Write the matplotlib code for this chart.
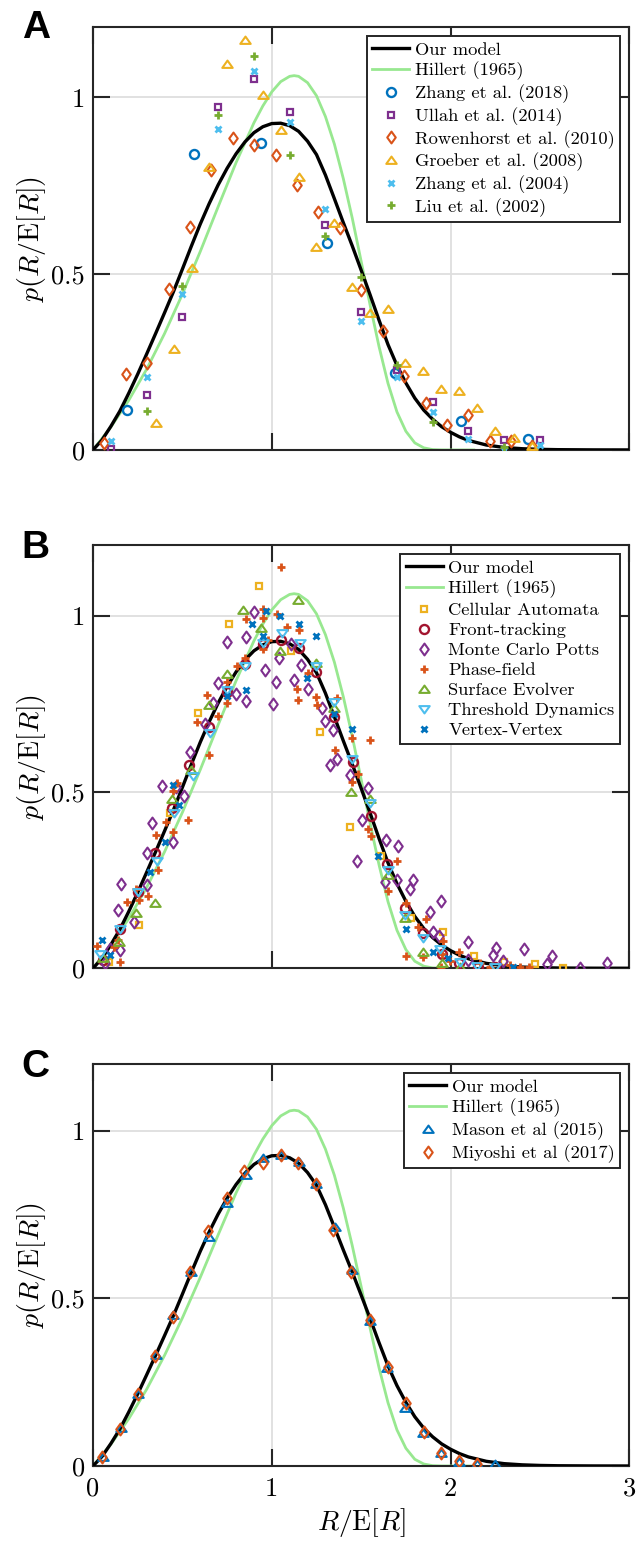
"""Grain radius distributions: our model against Hillert (1965) and published data"""

import matplotlib.pyplot as plt
from matplotlib.path import Path

# model curves
model_x = [0.00, 0.05, 0.10, 0.15, 0.20, 0.25, 0.30, 0.35, 0.40, 0.45, 0.50, 0.55,
           0.60, 0.65, 0.70, 0.75, 0.80, 0.85, 0.90, 0.95, 1.00, 1.05, 1.10, 1.15,
           1.20, 1.25, 1.30, 1.35, 1.40, 1.45, 1.50, 1.55, 1.60, 1.65, 1.70, 1.75,
           1.80, 1.85, 1.90, 1.95, 2.00, 2.05, 2.10, 2.20, 2.30, 2.40, 2.50, 2.60,
           2.80, 3.00]
model_y = [0.000, 0.028, 0.067, 0.110, 0.161, 0.215, 0.272, 0.330, 0.389, 0.449, 0.513, 0.578,
           0.641, 0.699, 0.752, 0.799, 0.840, 0.874, 0.900, 0.917, 0.926, 0.927, 0.920, 0.904,
           0.876, 0.838, 0.780, 0.713, 0.645, 0.579, 0.510, 0.440, 0.368, 0.299, 0.240, 0.190,
           0.147, 0.113, 0.087, 0.066, 0.050, 0.037, 0.027, 0.014, 0.007, 0.0035, 0.0017, 0.0008,
           0.0002, 0.0]

hillert_x = [0.0, 0.1, 0.2, 0.3, 0.4, 0.5, 0.6, 0.7, 0.8, 0.9, 0.95, 1.0, 1.05, 1.1, 1.125,
             1.15, 1.2, 1.25, 1.3, 1.35, 1.4, 1.45, 1.5, 1.55, 1.6, 1.65, 1.7, 1.75, 1.8,
             1.85, 1.9, 1.95, 2.0, 2.13]
hillert_y = [0.0, 0.065, 0.141, 0.229, 0.330, 0.442, 0.563, 0.690, 0.815, 0.928, 0.976, 1.016,
             1.045, 1.060, 1.062, 1.060, 1.042, 1.005, 0.946, 0.868, 0.770, 0.658, 0.535, 0.411,
             0.293, 0.189, 0.108, 0.053, 0.020, 0.006, 0.001, 0.0001, 0.0, 0.0]

# (A) experiments
zhang2018 = [(0.19, 0.114), (0.565, 0.841), (0.94, 0.872), (1.31, 0.586), (1.69, 0.218),
             (2.06, 0.083), (2.435, 0.032)]
ullah2014 = [(0.1, 0.003), (0.3, 0.155), (0.5, 0.377), (0.7, 0.974), (0.9, 1.052), (1.1, 0.958),
             (1.3, 0.638), (1.5, 0.391), (1.7, 0.227), (1.9, 0.137), (2.1, 0.055), (2.3, 0.029),
             (2.5, 0.027)]
rowenhorst2010 = [(0.063, 0.021), (0.183, 0.216), (0.304, 0.246), (0.423, 0.456), (0.543, 0.633),
                  (0.660, 0.795), (0.781, 0.886), (0.900, 0.864), (1.022, 0.836), (1.139, 0.752),
                  (1.257, 0.675), (1.381, 0.631), (1.499, 0.454), (1.620, 0.338), (1.739, 0.211),
                  (1.860, 0.132), (1.980, 0.071), (2.099, 0.099), (2.220, 0.024), (2.339, 0.024),
                  (2.457, 0.011)]
groeber2008 = [(0.354, 0.076), (0.451, 0.286), (0.552, 0.516), (0.651, 0.804), (0.751, 1.095),
               (0.852, 1.162), (0.951, 1.008), (1.050, 0.907), (1.150, 0.773), (1.249, 0.577),
               (1.350, 0.645), (1.449, 0.462), (1.547, 0.388), (1.648, 0.399), (1.747, 0.248),
               (1.846, 0.225), (1.946, 0.172), (2.047, 0.166), (2.146, 0.118), (2.248, 0.054),
               (2.355, 0.033), (2.454, 0.010)]
zhang2004 = [(0.1, 0.026), (0.3, 0.207), (0.5, 0.442), (0.7, 0.910), (0.9, 1.074), (1.1, 0.931),
             (1.3, 0.684), (1.5, 0.367), (1.7, 0.208), (1.9, 0.108), (2.1, 0.030), (2.3, 0.0),
             (2.5, 0.014)]
liu2002 = [(0.3, 0.110), (0.5, 0.466), (0.7, 0.951), (0.9, 1.118), (1.1, 0.836), (1.3, 0.608),
           (1.5, 0.490), (1.7, 0.241), (1.9, 0.080), (2.3, 0.008)]

# (B) simulations
cellular = [(0.09, 0.017), (0.26, 0.123), (0.43, 0.440), (0.59, 0.723), (0.76, 0.975),
            (0.93, 1.085), (1.11, 0.900), (1.27, 0.670), (1.44, 0.400), (1.61, 0.317),
            (1.78, 0.142), (1.96, 0.104), (2.13, 0.035), (2.30, 0.019), (2.47, 0.011), (2.63, 0.0)]
front_tracking = [(0.058, 0.024), (0.151, 0.111), (0.253, 0.215), (0.347, 0.326), (0.440, 0.454),
                  (0.539, 0.577), (0.648, 0.683), (0.748, 0.783), (0.850, 0.864), (0.953, 0.918),
                  (1.050, 0.930), (1.154, 0.908), (1.247, 0.839), (1.350, 0.712), (1.452, 0.585),
                  (1.555, 0.432), (1.645, 0.296), (1.745, 0.172), (1.847, 0.099), (1.950, 0.041),
                  (2.049, 0.014), (2.151, 0.005), (2.250, 0.004)]
potts = [(0.067, 0.014), (0.095, 0.054), (0.151, 0.052), (0.138, 0.164), (0.155, 0.238),
         (0.229, 0.130), (0.300, 0.236), (0.304, 0.326), (0.328, 0.412), (0.384, 0.517),
         (0.446, 0.359), (0.466, 0.515), (0.508, 0.488), (0.543, 0.613), (0.626, 0.692),
         (0.673, 0.752), (0.701, 0.810), (0.748, 0.924), (0.802, 0.779), (0.853, 0.939),
         (0.853, 0.759), (0.902, 1.010), (0.962, 0.845), (1.008, 0.748), (1.021, 0.812),
         (1.040, 0.879), (1.108, 0.918), (1.122, 0.816), (1.165, 0.860), (1.200, 0.793),
         (1.283, 0.738), (1.298, 0.701), (1.344, 0.676), (1.324, 0.576), (1.367, 0.592),
         (1.437, 0.549), (1.536, 0.511), (1.503, 0.420), (1.475, 0.303), (1.639, 0.364),
         (1.708, 0.347), (1.633, 0.246), (1.699, 0.251), (1.771, 0.226), (1.791, 0.250),
         (1.945, 0.190), (1.883, 0.161), (1.903, 0.102), (1.937, 0.092), (2.099, 0.075),
         (2.095, 0.024), (2.253, 0.057), (2.240, 0.038), (2.295, 0.022), (2.411, 0.054),
         (2.537, 0.012), (2.570, 0.035), (2.724, 0.0), (2.877, 0.014)]
phase_field = [(0.020, 0.063), (0.120, 0.059), (0.142, 0.080), (0.151, 0.019), (0.188, 0.188),
               (0.240, 0.224), (0.259, 0.193), (0.309, 0.206), (0.352, 0.378), (0.365, 0.279),
               (0.406, 0.416), (0.449, 0.386), (0.449, 0.504), (0.472, 0.525), (0.529, 0.420),
               (0.580, 0.697), (0.639, 0.775), (0.651, 0.604), (0.698, 0.716), (0.750, 0.752),
               (0.751, 0.811), (0.805, 0.857), (0.850, 0.880), (0.855, 0.989), (0.951, 0.993),
               (0.951, 1.018), (0.951, 0.904), (0.977, 0.932), (1.027, 1.005), (1.052, 1.137),
               (1.083, 0.968), (1.154, 0.960), (1.139, 0.792), (1.148, 0.761), (1.204, 0.837),
               (1.248, 0.770), (1.251, 0.747), (1.363, 0.766), (1.356, 0.619), (1.450, 0.653),
               (1.549, 0.648), (1.450, 0.527), (1.484, 0.552), (1.540, 0.395), (1.555, 0.374),
               (1.700, 0.305), (1.652, 0.218), (1.751, 0.184), (1.751, 0.035), (1.820, 0.117),
               (1.860, 0.139), (1.847, 0.031), (1.956, 0.078), (1.950, 0.040), (1.945, 0.005),
               (1.997, 0.022), (2.049, 0.047), (2.164, 0.014), (2.220, 0.005), (2.332, 0.009),
               (2.388, 0.005), (2.440, 0.005)]
surface_evolver = [(0.058, 0.028), (0.146, 0.075), (0.240, 0.157), (0.349, 0.184), (0.442, 0.480),
                   (0.548, 0.563), (0.649, 0.747), (0.748, 0.835), (0.841, 1.017), (0.942, 0.965),
                   (1.044, 0.900), (1.144, 1.044), (1.249, 0.865), (1.350, 0.738), (1.441, 0.500),
                   (1.550, 0.480), (1.650, 0.265), (1.745, 0.142), (1.847, 0.047), (1.950, 0.014),
                   (2.050, 0.003)]
threshold = [(0.040, 0.040), (0.150, 0.112), (0.250, 0.217), (0.356, 0.305), (0.455, 0.440),
             (0.557, 0.544), (0.652, 0.667), (0.752, 0.790), (0.852, 0.858), (0.953, 0.921),
             (1.058, 0.951), (1.158, 0.921), (1.247, 0.856), (1.350, 0.754), (1.450, 0.593),
             (1.550, 0.468), (1.650, 0.279), (1.745, 0.151), (1.845, 0.085), (1.940, 0.055),
             (2.050, 0.018), (2.150, 0.006), (2.250, 0.004)]
vertex = [(0.049, 0.079), (0.093, 0.037), (0.319, 0.274), (0.403, 0.358), (0.449, 0.521),
          (0.482, 0.464), (0.748, 0.771), (0.854, 0.790), (0.887, 0.977), (0.951, 0.941),
          (0.970, 1.014), (1.046, 0.999), (1.150, 0.977), (1.195, 0.824), (1.247, 0.943),
          (1.350, 0.720), (1.450, 0.679), (1.596, 0.317), (1.748, 0.110), (1.903, 0.047),
          (1.987, 0.028), (2.351, 0.005)]

# (C) large-scale simulations
mason2015 = [(0.058, 0.028), (0.155, 0.114), (0.253, 0.215), (0.350, 0.331), (0.449, 0.451),
             (0.547, 0.578), (0.650, 0.685), (0.752, 0.786), (0.853, 0.869), (0.952, 0.918),
             (1.050, 0.928), (1.151, 0.907), (1.246, 0.842), (1.352, 0.714), (1.451, 0.585),
             (1.551, 0.433), (1.645, 0.292), (1.745, 0.172), (1.845, 0.100), (1.946, 0.038),
             (2.046, 0.013), (2.147, 0.005), (2.246, 0.006)]
miyoshi2017 = [(0.052, 0.028), (0.151, 0.110), (0.251, 0.215), (0.348, 0.328), (0.445, 0.446),
               (0.544, 0.578), (0.644, 0.701), (0.747, 0.799), (0.847, 0.881), (0.950, 0.904),
               (1.050, 0.928), (1.147, 0.905), (1.246, 0.842), (1.343, 0.704), (1.445, 0.578),
               (1.547, 0.436), (1.650, 0.295), (1.749, 0.187), (1.849, 0.101), (1.946, 0.038),
               (2.046, 0.015), (2.147, 0.005)]

BLUE = "#0072BD"
ORANGE = "#D95319"
YELLOW = "#EDB120"
PURPLE = "#7E2F8E"
GREEN = "#77AC30"
CYAN = "#4DBEEE"
DARKRED = "#A2142F"
EDGE = "#262626"

DIAMOND = Path([(0, 1), (0.72, 0), (0, -1), (-0.72, 0), (0, 1)], closed=True)
TRI_UP = Path([(0, 0.75), (1, -0.65), (-1, -0.65), (0, 0.75)], closed=True)
TRI_DOWN = Path([(0, -0.75), (1, 0.65), (-1, 0.65), (0, -0.75)], closed=True)

MARKERS = {
    "o": dict(marker="o", ms=6.5, mew=1.7),
    "s": dict(marker="s", ms=4.6, mew=1.6),
    "d": dict(marker=DIAMOND, ms=8.5, mew=1.5),
    "^": dict(marker=TRI_UP, ms=7.5, mew=1.5),
    "v": dict(marker=TRI_DOWN, ms=7.5, mew=1.5),
    "x": dict(marker="x", ms=4.5, mew=2.0),
    "+": dict(marker="+", ms=6.0, mew=2.0),
}

plt.rcParams["font.family"] = "cmr10"
plt.rcParams["mathtext.fontset"] = "cm"
plt.rcParams["axes.unicode_minus"] = False


def draw_curves(ax):
    """Our model and the Hillert distribution"""
    ax.plot(model_x, model_y, color="black", lw=2.4, label="Our model", zorder=3)
    ax.plot(hillert_x, hillert_y, color="#98e890", lw=2.0, label="Hillert (1965)", zorder=2)


def draw_points(ax, points, kind, color, label):
    xs, ys = zip(*points)
    ax.plot(xs, ys, ls="none", color=color, mfc="none", mec=color, label=label,
            zorder=4, **MARKERS[kind])


def style_axes(ax, show_x):
    ax.set_xlim(0, 3)
    ax.set_ylim(0, 1.2)
    ax.set_xticks([0, 1, 2, 3])
    ax.set_yticks([0, 0.5, 1], labels=["0", "0.5", "1"])
    if show_x:
        ax.set_xticklabels(["0", "1", "2", "3"])
        ax.set_xlabel(r"$R/\mathrm{E}[R]$", fontsize=20, labelpad=4)
    else:
        ax.set_xticklabels([])
    ax.set_ylabel(r"$p(R/\mathrm{E}[R])$", fontsize=20, labelpad=2)
    ax.grid(True, color="#dedede", lw=1.3)
    ax.set_axisbelow(True)
    ax.tick_params(direction="in", length=12, width=1.5, color=EDGE, labelsize=19,
                   top=True, right=True)
    ax.tick_params(axis="x", pad=8)
    ax.tick_params(axis="y", pad=6)
    for spine in ax.spines.values():
        spine.set_linewidth(1.5)
        spine.set_color(EDGE)
    leg = ax.legend(loc="upper right", fontsize=13.3, labelspacing=0.22, handlelength=2.0,
                    handletextpad=0.3, borderpad=0.3, borderaxespad=0.5, fancybox=False,
                    framealpha=1.0)
    leg.get_frame().set_edgecolor(EDGE)
    leg.get_frame().set_linewidth(1.4)


fig = plt.figure(figsize=(6.37, 15.51), dpi=100)
ax_a = fig.add_axes([0.146, 0.7099, 0.842, 0.2727])
ax_b = fig.add_axes([0.146, 0.3757, 0.842, 0.2729])
ax_c = fig.add_axes([0.146, 0.0548, 0.842, 0.2592])

draw_curves(ax_a)
draw_points(ax_a, zhang2018, "o", BLUE, "Zhang et al. (2018)")
draw_points(ax_a, ullah2014, "s", PURPLE, "Ullah et al. (2014)")
draw_points(ax_a, rowenhorst2010, "d", ORANGE, "Rowenhorst et al. (2010)")
draw_points(ax_a, groeber2008, "^", YELLOW, "Groeber et al. (2008)")
draw_points(ax_a, zhang2004, "x", CYAN, "Zhang et al. (2004)")
draw_points(ax_a, liu2002, "+", GREEN, "Liu et al. (2002)")
style_axes(ax_a, False)

draw_curves(ax_b)
draw_points(ax_b, cellular, "s", YELLOW, "Cellular Automata")
draw_points(ax_b, front_tracking, "o", DARKRED, "Front-tracking")
draw_points(ax_b, potts, "d", PURPLE, "Monte Carlo Potts")
draw_points(ax_b, phase_field, "+", ORANGE, "Phase-field")
draw_points(ax_b, surface_evolver, "^", GREEN, "Surface Evolver")
draw_points(ax_b, threshold, "v", CYAN, "Threshold Dynamics")
draw_points(ax_b, vertex, "x", BLUE, "Vertex-Vertex")
style_axes(ax_b, False)

draw_curves(ax_c)
draw_points(ax_c, mason2015, "^", BLUE, "Mason et al (2015)")
draw_points(ax_c, miyoshi2017, "d", ORANGE, "Miyoshi et al (2017)")
style_axes(ax_c, True)

for letter, y in (("A", 0.9755), ("B", 0.6402), ("C", 0.3058)):
    fig.text(0.034, y, letter, family="Liberation Sans", weight="bold", fontsize=28,
             va="baseline", ha="left")

fig.savefig("out.png", dpi=100)
